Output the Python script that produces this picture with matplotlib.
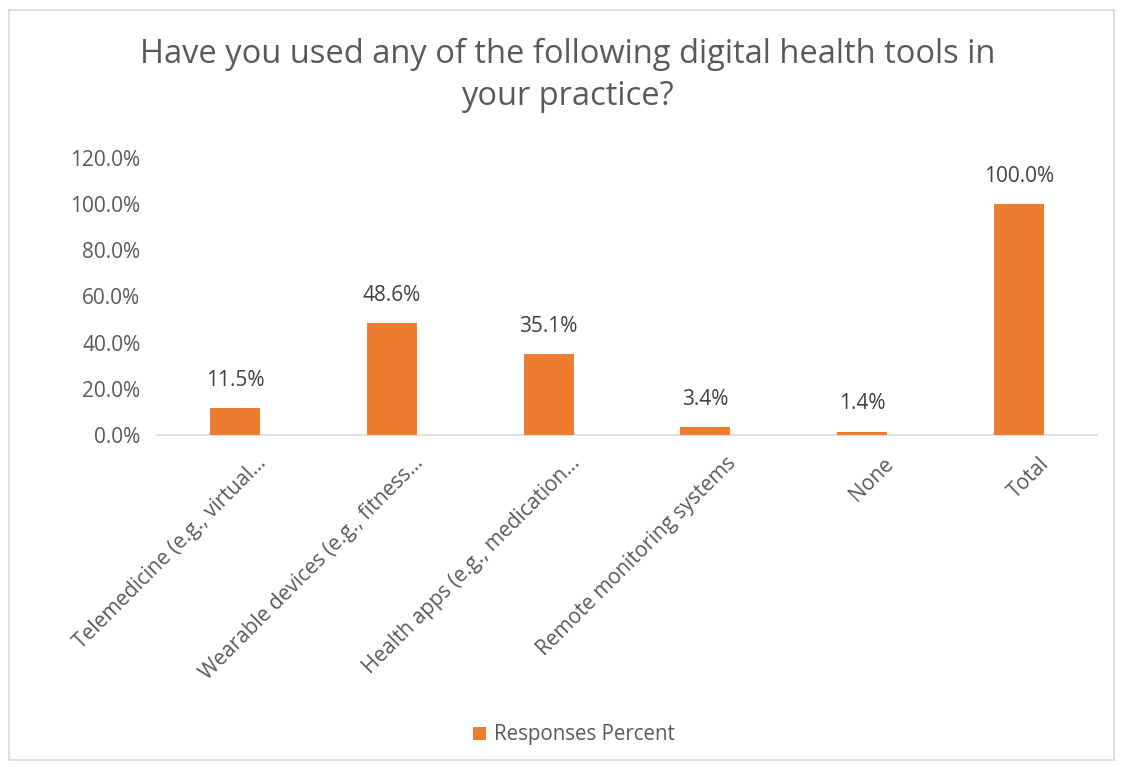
import matplotlib
matplotlib.use('Agg')
from matplotlib import pyplot as plt
from matplotlib.patches import Rectangle
from matplotlib.transforms import ScaledTranslation

categories = [
    'Telemedicine (e.g., virtual...',
    'Wearable devices (e.g., fitness...',
    'Health apps (e.g., medication...',
    'Remote monitoring systems',
    'None',
    'Total',
]
percent = [11.5, 48.6, 35.1, 3.4, 1.4, 100.0]
y_ticks = [0, 20, 40, 60, 80, 100, 120]

bar_color = '#ED7D31'
text_gray = '#595959'

plt.rcParams['font.family'] = ['Open Sans', 'DejaVu Sans']

fig = plt.figure(figsize=[11.21, 7.67], dpi=100)
ax = fig.add_axes([0.140, 0.4329, 0.8386, 0.3611])

x = list(range(len(categories)))
bars = ax.bar(x, percent, width=0.32, color=bar_color, label='Responses Percent', zorder=3)

for xi, v in zip(x, percent):
    ax.annotate(f'{v:.1f}%', (xi, v), xytext=(0, 20), textcoords='offset points',
                ha='center', va='center', fontsize=15, color='#404040')

ax.set_xlim(-0.5, len(categories) - 0.5)
ax.set_ylim(0, 120)
ax.set_yticks(y_ticks)
ax.set_yticklabels([f'{t:.1f}%' for t in y_ticks], fontsize=15, color=text_gray)
ax.set_xticks(x)
ax.set_xticklabels(categories, rotation=45, ha='right', va='center',
                   rotation_mode='anchor', fontsize=15, color=text_gray)

ax.tick_params(axis='y', length=0, pad=12)
ax.tick_params(axis='x', length=0, pad=14)

# nudge the slanted category labels (after tick_params, which resets transforms)
shift = ScaledTranslation(28 / 100, -6 / 100, fig.dpi_scale_trans)
for lbl in ax.get_xticklabels():
    lbl.set_transform(lbl.get_transform() + shift)

for side in ['top', 'right', 'left']:
    ax.spines[side].set_visible(False)
ax.spines['bottom'].set_color('#D9D9D9')
ax.spines['bottom'].set_linewidth(1.2)

fig.text(0.506, 0.902, 'Have you used any of the following digital health tools in\nyour practice?',
         ha='center', va='center', fontsize=23.5, color=text_gray, linespacing=1.36)

fig.legend(handles=[bars], loc='center', bbox_to_anchor=(0.512, 0.042), frameon=False,
           fontsize=14.8, labelcolor=text_gray, handlelength=0.6, handleheight=0.6,
           handletextpad=0.4)

# thin frame around the whole chart area
fig.patches.append(Rectangle((9 / 1121, 7 / 767), 1105 / 1121, 750 / 767,
                             transform=fig.transFigure, fill=False,
                             edgecolor='#D9D9D9', linewidth=1.2))

plt.savefig('out.png', dpi=100)
